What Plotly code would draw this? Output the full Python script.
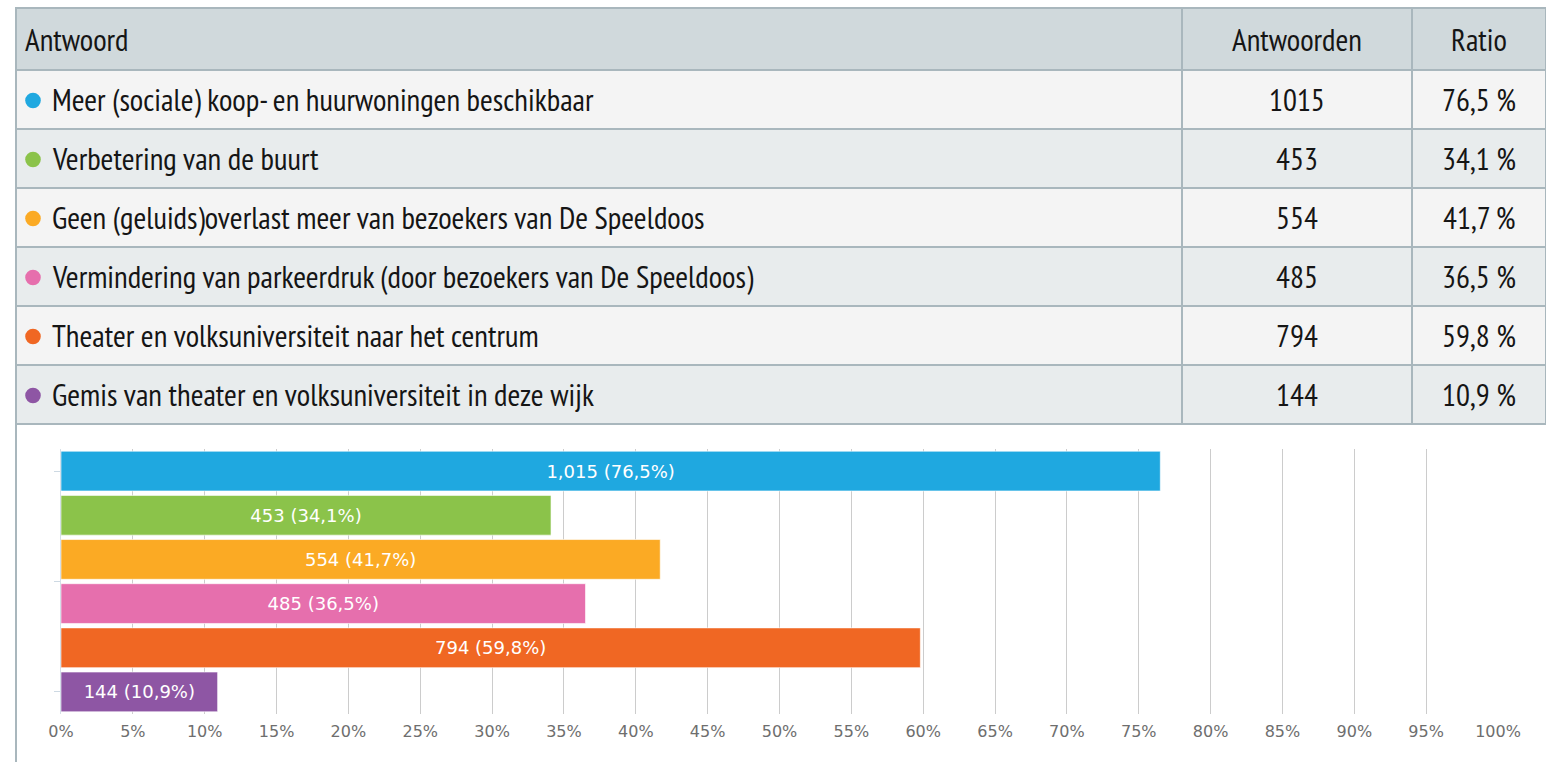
import plotly.graph_objects as go

# ---- data ----
answers = [
    "Meer (sociale) koop- en huurwoningen beschikbaar",
    "Verbetering van de buurt",
    "Geen (geluids)overlast meer van bezoekers van De Speeldoos",
    "Vermindering van parkeerdruk (door bezoekers van De Speeldoos)",
    "Theater en volksuniversiteit naar het centrum",
    "Gemis van theater en volksuniversiteit in deze wijk",
]
counts = [1015, 453, 554, 485, 794, 144]
ratios = [76.5, 34.1, 41.7, 36.5, 59.8, 10.9]
colors = ["#1fa8e0", "#8bc34a", "#fbaa24", "#e66fad", "#f06723", "#8e56a4"]
headers = ["Antwoord", "Antwoorden", "Ratio"]
x_ticks = list(range(0, 101, 5))

# ---- layout constants (pixels) ----
W, H = 1546, 762
TBL_LEFT, TBL_TOP = 16, 8
COL_W = [1166, 230, 134]
HEADER_H, ROW_H = 62, 59
TBL_W = sum(COL_W)
TBL_H = HEADER_H + ROW_H * len(answers) + 2
TABLE_FONT = "PT Sans Narrow, Liberation Sans Narrow, Arial Narrow, sans-serif"
CHART_FONT = "DejaVu Sans, Verdana, sans-serif"
TXT_SIZE = 31
DOT_R = 7.8


def fmt_ratio(r):
    return f"{r:.1f}".replace(".", ",")


row_fill = ["#f4f4f4" if i % 2 == 0 else "#e8eced" for i in range(len(answers))]
bar_text = [f"{c:,} ({fmt_ratio(r)}%)" for c, r in zip(counts, ratios)]

# positions inside the table (overlay axes x2/y2 are in pixel units)
col1_text_x, col1_dot_x, header1_x = 35, 17, 8
col2_c = COL_W[0] + COL_W[1] / 2
col3_c = COL_W[0] + COL_W[1] + COL_W[2] / 2
header_c = HEADER_H / 2
row_c = [HEADER_H + ROW_H * i + ROW_H / 2 for i in range(len(answers))]

tbl_domain_x = [TBL_LEFT / W, min(1.0, (TBL_LEFT + TBL_W) / W)]
tbl_domain_y = [1 - (TBL_TOP + TBL_H) / H, 1 - TBL_TOP / H]

fig = go.Figure()

# table: fills and borders
fig.add_trace(go.Table(
    domain=dict(x=tbl_domain_x, y=tbl_domain_y),
    columnwidth=COL_W,
    header=dict(
        values=["", "", ""],
        height=HEADER_H,
        fill_color="#d0d9dc",
        line=dict(color="#a9b7bd", width=2),
    ),
    cells=dict(
        values=[[""] * len(answers)] * 3,
        height=ROW_H,
        fill_color=[row_fill, row_fill, row_fill],
        line=dict(color="#a9b7bd", width=2),
    ),
))

# bar chart
fig.add_trace(go.Bar(
    x=ratios,
    y=list(range(len(answers))),
    orientation="h",
    width=0.9,
    marker=dict(color=colors, line=dict(color="rgba(255,255,255,0.6)", width=1)),
    text=bar_text,
    textposition="inside",
    insidetextanchor="middle",
    textfont=dict(family=CHART_FONT, size=18, color="white"),
    hoverinfo="skip",
    showlegend=False,
))

# table texts (annotations on the overlay axes so they sit above the table layer)
txt_font = dict(family=TABLE_FONT, size=TXT_SIZE, color="#151515")
annotations = []
annotations.append(dict(x=header1_x, y=header_c, text=headers[0], xanchor="left"))
annotations.append(dict(x=col2_c, y=header_c, text=headers[1], xanchor="center"))
annotations.append(dict(x=col3_c, y=header_c, text=headers[2], xanchor="center"))
for i in range(len(answers)):
    annotations.append(dict(x=col1_text_x, y=row_c[i], text=answers[i], xanchor="left"))
    annotations.append(dict(x=col2_c, y=row_c[i], text=str(counts[i]), xanchor="center"))
    annotations.append(dict(x=col3_c, y=row_c[i], text=fmt_ratio(ratios[i]) + " %", xanchor="center"))
for a in annotations:
    a.update(xref="x2", yref="y2", yanchor="middle", showarrow=False, font=txt_font,
             borderpad=0)

shapes = [
    dict(type="line", xref="paper", yref="paper",
         x0=TBL_LEFT / W, x1=TBL_LEFT / W, y0=0, y1=1 - TBL_TOP / H,
         line=dict(color="#a9b7bd", width=2)),
]
# legend dots in front of each answer
for i, c in enumerate(colors):
    shapes.append(dict(
        type="circle", xref="x2", yref="y2", layer="above",
        x0=col1_dot_x - DOT_R, x1=col1_dot_x + DOT_R,
        y0=row_c[i] + 1 - DOT_R, y1=row_c[i] + 1 + DOT_R,
        fillcolor=c, line=dict(width=0),
    ))

fig.update_layout(
    width=W, height=H,
    margin=dict(l=0, r=0, t=0, b=0, autoexpand=False),
    paper_bgcolor="white",
    plot_bgcolor="white",
    showlegend=False,
    annotations=annotations,
    shapes=shapes,
    xaxis=dict(
        domain=[61 / W, 1498 / W],
        range=[0, 100],
        tickvals=x_ticks,
        ticktext=[f"{v}%" for v in x_ticks],
        showgrid=True,
        gridcolor="#cccccc",
        gridwidth=1,
        zeroline=False,
        showline=False,
        ticks="outside",
        ticklen=3,
        tickcolor="rgba(0,0,0,0)",
        automargin=False,
        tickfont=dict(family=CHART_FONT, size=16, color="#6e6e6e"),
        fixedrange=True,
    ),
    yaxis=dict(
        domain=[1 - 714 / H, 1 - 449 / H],
        range=[5.5, -0.5],
        tickvals=[0, 2.5, 5],
        showticklabels=False,
        ticks="outside",
        ticklen=6,
        tickcolor="#cdd9e3",
        showgrid=False,
        zeroline=False,
        showline=True,
        linecolor="#d5dfe8",
        linewidth=1,
        automargin=False,
        fixedrange=True,
    ),
    xaxis2=dict(
        domain=tbl_domain_x, range=[0, tbl_domain_x[1] * W - TBL_LEFT],
        anchor="y2", visible=False, fixedrange=True,
    ),
    yaxis2=dict(
        domain=tbl_domain_y, range=[TBL_H, 0],
        anchor="x2", visible=False, fixedrange=True,
    ),
)

fig.write_html(
    "out.html",
    config={"displayModeBar": False},
    post_script="document.body.style.margin='0';document.body.style.overflow='hidden';",
)
